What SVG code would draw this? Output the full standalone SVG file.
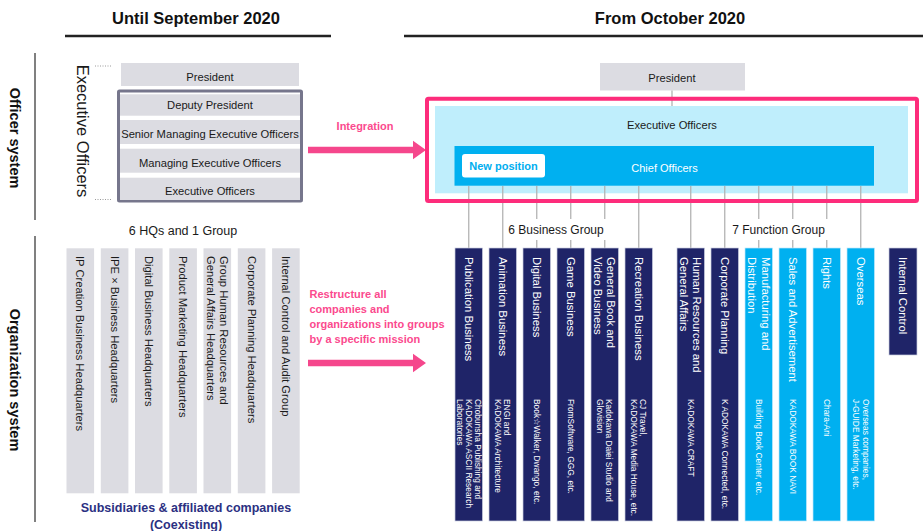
<svg xmlns="http://www.w3.org/2000/svg" xmlns:xlink="http://www.w3.org/1999/xlink" width="923" height="531" viewBox="0 0 923 531">
  <style>
    text { font-family: "Liberation Sans", Arial, "DejaVu Sans", sans-serif; }
    .hdr { font-size: 16.5px; font-weight: bold; fill: #111; text-anchor: middle; }
    .side { font-size: 14.5px; font-weight: bold; fill: #111; text-anchor: middle; }
    .lbl { font-size: 11.2px; fill: #1a1a1a; text-anchor: middle; }
    .grp { font-size: 12px; fill: #1a1a1a; text-anchor: middle; }
    .pink { font-size: 11px; font-weight: bold; fill: #fb4a8e; }
    .navy { font-size: 12.5px; font-weight: bold; fill: #2b3082; text-anchor: middle; }
    .gcol { fill: #dcdce2; }
    .gtxt { font-size: 11.2px; fill: #1a1a1a; }
    .dcol { fill: #1f2468; stroke: #c9cde0; stroke-width: 0.7; }
    .bcol { fill: #00b0f0; stroke: #bfe9fb; stroke-width: 0.7; }
    .ttl { font-size: 11.3px; fill: #ffffff; }
    .sub { font-size: 8.4px; fill: #ffffff; }
    .conn line { stroke: #b3b3b3; stroke-width: 1.3; }
    .rule { stroke: #222; stroke-width: 2.5; }
    .vbar { stroke: #808080; stroke-width: 2; }
    .dots { stroke: #9a9a9a; stroke-width: 1; stroke-dasharray: 1 1.5; }
  </style>
  <defs>
    <!-- thick pink arrow, drawn from its tail at (0,0) -->
    <path id="fatArrow" d="M0,-3.3 H105 V-9.3 L118,0 L105,9.3 V3.3 H0 Z" fill="#f5478c"/>
  </defs>

  <rect width="923" height="531" fill="#ffffff"/>

  <!-- period headers -->
  <g id="headers">
    <text class="hdr" x="196" y="24">Until September 2020</text>
    <line class="rule" x1="65" y1="36" x2="331" y2="36"/>
    <text class="hdr" x="670" y="24">From October 2020</text>
    <line class="rule" x1="404" y1="36" x2="923" y2="36"/>
  </g>

  <!-- row captions -->
  <g id="officer-system">
    <line class="vbar" x1="35" y1="53" x2="35" y2="220"/>
    <text class="side" transform="translate(15,138) rotate(90)" y="5">Officer system</text>
  </g>
  <g id="organization-system">
    <line class="vbar" x1="35" y1="236" x2="35" y2="522"/>
    <text class="side" transform="translate(15,380) rotate(90)" y="5">Organization system</text>
  </g>

  <!-- former officer structure -->
  <g id="old-executive-label">
    <text transform="translate(83,131) rotate(90)" y="6" style="font-size:16.5px;fill:#1a1a1a;text-anchor:middle">Executive Officers</text>
    <line class="dots" x1="95" y1="66" x2="112" y2="66"/>
    <line class="dots" x1="95" y1="199.5" x2="112" y2="199.5"/>
  </g>
  <g id="old-president">
    <rect class="gcol" x="121" y="63" width="178" height="23"/>
    <text class="lbl" x="210" y="80.5">President</text>
  </g>
  <g id="old-executives">
    <rect x="118.5" y="91" width="183" height="110" fill="#ffffff" stroke="#76768c" stroke-width="3" rx="1"/>
    <rect class="gcol" x="120" y="94.3" width="180" height="21.4"/>
    <rect class="gcol" x="120" y="120" width="180" height="24"/>
    <rect class="gcol" x="120" y="148.7" width="180" height="24"/>
    <rect class="gcol" x="120" y="177.7" width="180" height="22.3"/>
    <text class="lbl" x="210" y="109">Deputy President</text>
    <text class="lbl" x="210" y="138">Senior Managing Executive Officers</text>
    <text class="lbl" x="210" y="166.7">Managing Executive Officers</text>
    <text class="lbl" x="210" y="195.3">Executive Officers</text>
  </g>

  <!-- transition arrows -->
  <g id="integration">
    <use xlink:href="#fatArrow" x="308" y="150"/>
    <text class="pink" x="365" y="130" text-anchor="middle">Integration</text>
  </g>
  <g id="restructure">
    <use xlink:href="#fatArrow" x="308" y="363"/>
    <text class="pink" x="309.5">
      <tspan x="309.5" y="298">Restructure all</tspan>
      <tspan x="309.5" y="313">companies and</tspan>
      <tspan x="309.5" y="328">organizations into groups</tspan>
      <tspan x="309.5" y="343">by a specific mission</tspan>
    </text>
  </g>

  <!-- former organization -->
  <g id="old-organization">
    <text class="grp" x="183" y="234.5" style="font-size:12.5px">6 HQs and 1 Group</text>
    <rect class="gcol" x="66.5" y="248.3" width="27.6" height="245"/>
    <rect class="gcol" x="100.8" y="248.3" width="27.6" height="245"/>
    <rect class="gcol" x="135" y="248.3" width="27.6" height="245"/>
    <rect class="gcol" x="169.3" y="248.3" width="27.6" height="245"/>
    <rect class="gcol" x="203.5" y="248.3" width="27.6" height="245"/>
    <rect class="gcol" x="237.8" y="248.3" width="27.6" height="245"/>
    <rect class="gcol" x="272.1" y="248.3" width="27.6" height="245"/>
    <text class="gtxt" transform="translate(80.3,256) rotate(90)" y="4">IP Creation Business Headquarters</text>
    <text class="gtxt" transform="translate(114.6,256) rotate(90)" y="4">IPE × Business Headquarters</text>
    <text class="gtxt" transform="translate(148.8,256) rotate(90)" y="4">Digital Business Headquarters</text>
    <text class="gtxt" transform="translate(183.1,256) rotate(90)" y="4">Product Marketing Headquarters</text>
    <text class="gtxt" transform="translate(217.3,256) rotate(90)"><tspan x="0" y="-2.5">Group Human Resources and</tspan><tspan x="0" y="10.5">General Affairs Headquarters</tspan></text>
    <text class="gtxt" transform="translate(251.6,256) rotate(90)" y="4">Corporate Planning Headquarters</text>
    <text class="gtxt" transform="translate(285.9,256) rotate(90)" y="4">Internal Control and Audit Group</text>
    <text class="navy" x="186" y="511.5">Subsidiaries &amp; affiliated companies</text>
    <text class="navy" x="186" y="528.5">(Coexisting)</text>
  </g>

  <!-- new officer structure -->
  <g id="new-president">
    <rect class="gcol" x="600" y="63" width="145" height="27.5"/>
    <text class="lbl" x="672" y="82">President</text>
  </g>
  <g id="new-executives">
    <line x1="672" y1="90.5" x2="672" y2="106" stroke="#b3b3b3" stroke-width="1.3"/>
    <rect x="435" y="106" width="473" height="87.3" fill="#bfeefc"/>
    <text class="lbl" x="672" y="129">Executive Officers</text>
  </g>
  <g id="chief-officers">
    <rect x="454.5" y="146" width="419.5" height="39.7" fill="#00b0f0"/>
    <rect x="462" y="154" width="83" height="23.5" rx="3" fill="#ffffff"/>
    <text x="503.5" y="170" style="font-size:11px;font-weight:bold;fill:#00aeef;text-anchor:middle">New position</text>
    <text x="664.5" y="171.5" style="font-size:11px;fill:#ffffff;text-anchor:middle">Chief Officers</text>
  </g>

  <!-- reporting lines from Chief Officers down to each group -->
  <g id="connectors" class="conn">
    <line x1="468.75" y1="186" x2="468.75" y2="248"/>
    <line x1="502.75" y1="186" x2="502.75" y2="248"/>
    <line x1="536.75" y1="186" x2="536.75" y2="248"/>
    <line x1="570.75" y1="186" x2="570.75" y2="248"/>
    <line x1="604.75" y1="186" x2="604.75" y2="248"/>
    <line x1="638.75" y1="186" x2="638.75" y2="248"/>
    <line x1="690.75" y1="186" x2="690.75" y2="248"/>
    <line x1="724.75" y1="186" x2="724.75" y2="248"/>
    <line x1="758.75" y1="186" x2="758.75" y2="248"/>
    <line x1="792.75" y1="186" x2="792.75" y2="248"/>
    <line x1="826.75" y1="186" x2="826.75" y2="248"/>
    <line x1="860.75" y1="186" x2="860.75" y2="248"/>
  </g>

  <g id="integration-frame">
    <rect x="427" y="98.7" width="490" height="102.3" fill="none" stroke="#fd2c7b" stroke-width="4" rx="1.5"/>
  </g>

  <g id="group-labels">
    <rect x="506" y="219" width="101" height="21" fill="#ffffff"/>
    <text class="grp" x="556" y="234.3">6 Business Group</text>
    <rect x="730" y="219" width="98" height="21" fill="#ffffff"/>
    <text class="grp" x="778.5" y="234.3">7 Function Group</text>
  </g>

  <!-- 6 business groups -->
  <g id="publication">
    <rect class="dcol" x="455" y="248" width="27.5" height="273"/>
    <text class="ttl" transform="translate(468.75,257) rotate(90)" y="4">Publication Business</text>
    <text class="sub" transform="translate(468.75,399) rotate(90)"><tspan x="0" y="-6.1">Chobunsha Publishing and</tspan><tspan x="0" y="3">KADOKAWA ASCII Research</tspan><tspan x="0" y="12.1">Laboratories</tspan></text>
  </g>
  <g id="animation">
    <rect class="dcol" x="489" y="248" width="27.5" height="273"/>
    <text class="ttl" transform="translate(502.75,257) rotate(90)" y="4">Animation Business</text>
    <text class="sub" transform="translate(502.75,399) rotate(90)"><tspan x="0" y="-1.6">ENGI and</tspan><tspan x="0" y="7.6">KADOKAWA Architecture</tspan></text>
  </g>
  <g id="digital">
    <rect class="dcol" x="523" y="248" width="27.5" height="273"/>
    <text class="ttl" transform="translate(536.75,257) rotate(90)" y="4">Digital Business</text>
    <text class="sub" transform="translate(536.75,399) rotate(90)" y="3">Book☆Walker, Dwango, etc.</text>
  </g>
  <g id="game">
    <rect class="dcol" x="557" y="248" width="27.5" height="273"/>
    <text class="ttl" transform="translate(570.75,257) rotate(90)" y="4">Game Business</text>
    <text class="sub" transform="translate(570.75,399) rotate(90)" y="3">FromSoftware, GGG, etc.</text>
  </g>
  <g id="general-book-video">
    <rect class="dcol" x="591" y="248" width="27.5" height="273"/>
    <text class="ttl" transform="translate(604.75,257) rotate(90)"><tspan x="0" y="-2.6">General Book and</tspan><tspan x="0" y="10.6">Video Business</tspan></text>
    <text class="sub" transform="translate(604.75,399) rotate(90)"><tspan x="0" y="-1.6">Kadokawa Daiei Studio and</tspan><tspan x="0" y="7.6">Glovision</tspan></text>
  </g>
  <g id="recreation">
    <rect class="dcol" x="625" y="248" width="27.5" height="273"/>
    <text class="ttl" transform="translate(638.75,257) rotate(90)" y="4">Recreation Business</text>
    <text class="sub" transform="translate(638.75,399) rotate(90)"><tspan x="0" y="-1.6">CJ Travel,</tspan><tspan x="0" y="7.6">KADOKAWA Media House, etc.</tspan></text>
  </g>

  <!-- 7 function groups -->
  <g id="human-resources">
    <rect class="dcol" x="677" y="248" width="27.5" height="273"/>
    <text class="ttl" transform="translate(690.75,257) rotate(90)"><tspan x="0" y="-2.6">Human Resources and</tspan><tspan x="0" y="10.6">General Affairs</tspan></text>
    <text class="sub" transform="translate(690.75,399) rotate(90)" y="3">KADOKAWA CRAFT</text>
  </g>
  <g id="corporate-planning">
    <rect class="dcol" x="711" y="248" width="27.5" height="273"/>
    <text class="ttl" transform="translate(724.75,257) rotate(90)" y="4">Corporate Planning</text>
    <text class="sub" transform="translate(724.75,399) rotate(90)" y="3">K ADOKAWA Connected, etc.</text>
  </g>
  <g id="manufacturing">
    <rect class="bcol" x="745" y="248" width="27.5" height="273"/>
    <text class="ttl" transform="translate(758.75,257) rotate(90)"><tspan x="0" y="-2.8">Manufacturing and</tspan><tspan x="0" y="10.8">Distribution</tspan></text>
    <text class="sub" transform="translate(758.75,399) rotate(90)" y="3">Building Book Center, etc.</text>
  </g>
  <g id="sales">
    <rect class="bcol" x="779" y="248" width="27.5" height="273"/>
    <text class="ttl" transform="translate(792.75,257) rotate(90)" y="4">Sales and Advertisement</text>
    <text class="sub" transform="translate(792.75,399) rotate(90)" y="3">KADOKAWA BOOK NAVI</text>
  </g>
  <g id="rights">
    <rect class="bcol" x="813" y="248" width="27.5" height="273"/>
    <text class="ttl" transform="translate(826.75,257) rotate(90)" y="4">Rights</text>
    <text class="sub" transform="translate(826.75,399) rotate(90)" y="3">Chara-Ani</text>
  </g>
  <g id="overseas">
    <rect class="bcol" x="847" y="248" width="27.5" height="273"/>
    <text class="ttl" transform="translate(860.75,257) rotate(90)" y="4">Overseas</text>
    <text class="sub" transform="translate(860.75,399) rotate(90)"><tspan x="0" y="-2">Overseas companies,</tspan><tspan x="0" y="8">J-GUIDE Marketing, etc.</tspan></text>
  </g>
  <g id="internal-control">
    <rect class="dcol" x="889" y="248" width="28" height="107"/>
    <text class="ttl" transform="translate(903,257) rotate(90)" y="4">Internal Control</text>
  </g>
</svg>
